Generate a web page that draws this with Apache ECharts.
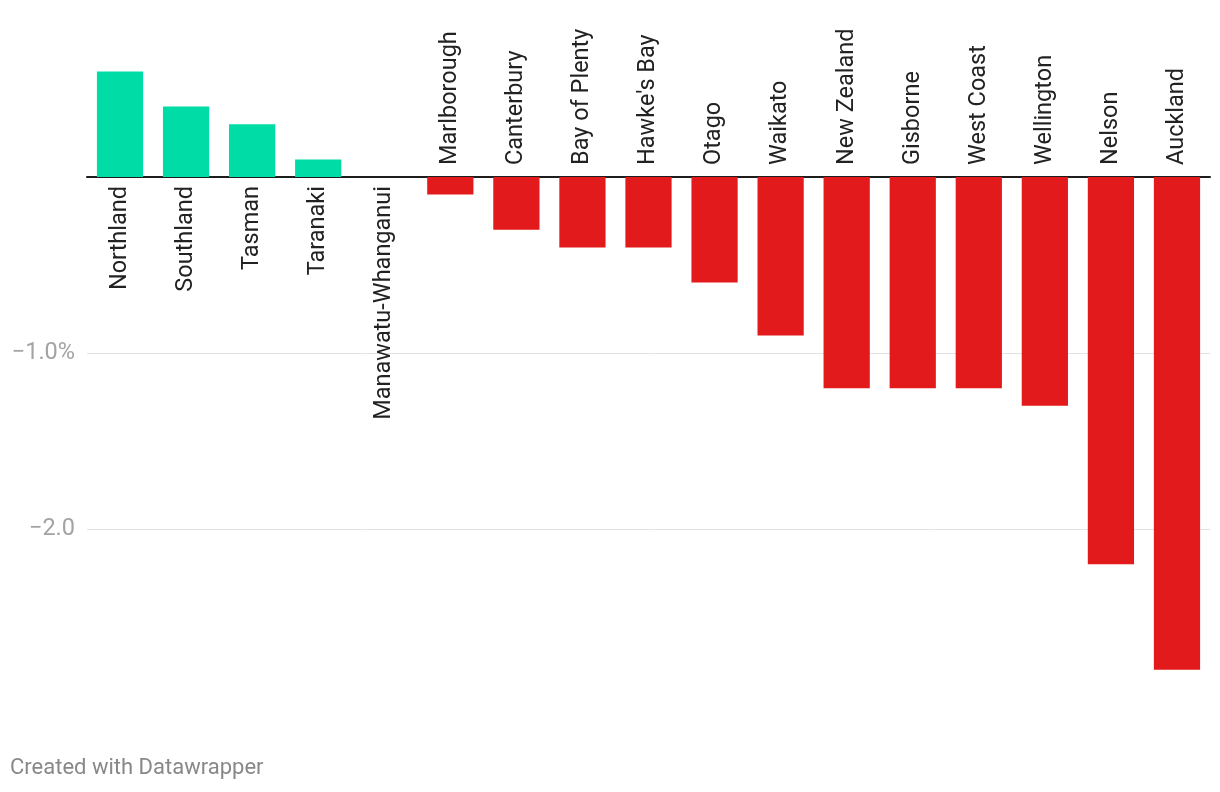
<!DOCTYPE html>
<html>
<head>
<meta charset="utf-8">
<script src="https://cdn.jsdelivr.net/npm/echarts@6/dist/echarts.min.js"></script>
<style>
html,body{margin:0;padding:0;background:#fff;}
#chart{width:1220px;height:792px;}
</style>
</head>
<body>
<div id="chart"></div>
<script>
const categories = ["Northland","Southland","Tasman","Taranaki","Manawatu-Whanganui","Marlborough","Canterbury","Bay of Plenty","Hawke's Bay","Otago","Waikato","New Zealand","Gisborne","West Coast","Wellington","Nelson","Auckland"];
const values = [0.6,0.4,0.3,0.1,0,-0.1,-0.3,-0.4,-0.4,-0.6,-0.9,-1.2,-1.2,-1.2,-1.3,-2.2,-2.8];
const yTickLabels = {"-1":"\u22121.0%","-2":"\u22122.0"};

const GREEN = '#00dca6', RED = '#e31a1c';
const chart = echarts.init(document.getElementById('chart'));
const data = values.map(v => {
  const neg = v < 0;
  return {
    value: v,
    itemStyle: {color: neg ? RED : GREEN},
    label: neg
      ? {show: true, position: 'top', rotate: 90, align: 'left', verticalAlign: 'middle', distance: 12}
      : {show: true, position: 'bottom', rotate: 90, align: 'right', verticalAlign: 'middle', distance: 9}
  };
});
chart.setOption({
  animation: false,
  grid: {left: 87, right: 10, top: 1, bottom: 87, containLabel: false},
  xAxis: {
    type: 'category', data: categories,
    axisLine: {show: true, onZero: true, lineStyle: {color: '#1d1d1d', width: 2}},
    axisTick: {show: false}, axisLabel: {show: false}, splitLine: {show: false}
  },
  yAxis: {
    type: 'value', min: -3, max: 1, interval: 1,
    axisLine: {show: false}, axisTick: {show: false},
    splitLine: {show: true, showMinLine: false, showMaxLine: false, lineStyle: {color: '#e3e3e3', width: 1}},
    axisLabel: {
      margin: 12, color: '#a3a3a3', fontFamily: 'Roboto', fontSize: 23.5,
      formatter: v => yTickLabels[String(v)] || ''
    }
  },
  series: [{
    type: 'bar', data: data, barCategoryGap: '30%',
    label: {color: '#222', fontFamily: 'Roboto', fontSize: 23.5, formatter: p => categories[p.dataIndex]}
  }],
  graphic: [{
    type: 'text', left: 10, top: 757,
    style: {text: 'Created with Datawrapper', fill: '#888', font: '22px Roboto'}
  }]
});
</script>
</body>
</html>
